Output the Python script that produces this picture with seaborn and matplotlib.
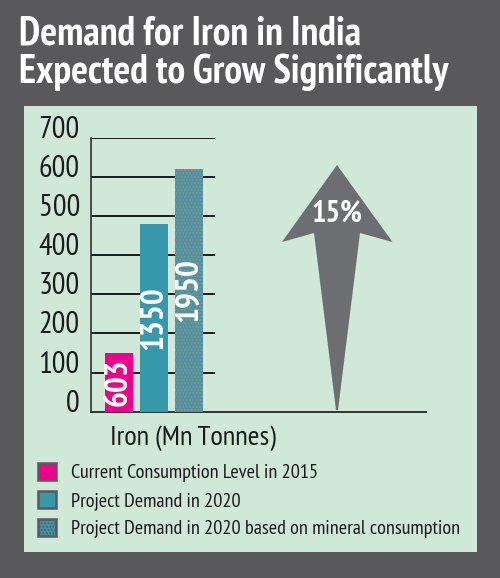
import matplotlib
matplotlib.use('Agg')
import matplotlib.pyplot as plt
import pandas as pd
import seaborn as sns
from matplotlib.patches import Patch, Polygon, Rectangle

W, H = 500, 578

categories = ['Current Consumption Level in 2015', 'Project Demand in 2020',
              'Project Demand in 2020 based on mineral consumption']
heights = [150, 480, 620]
bar_labels = ['603', '1350', '1950']
colors = ['#ec008c', '#3798ab', '#3f98aa']
y_ticks = [0, 100, 200, 300, 400, 500, 600, 700]
x_label = 'Iron (Mn Tonnes)'
growth_label = '15%'
title_lines = ['Demand for Iron in India', 'Expected to Grow Significantly']

FONT = ['PT Sans Narrow', 'Liberation Sans', 'DejaVu Sans']
DARK = '#59595b'
PANEL = '#cfe8d8'


def fx(px):
    return px / W


def fy(py):
    return 1 - py / H


sns.set_theme(style='white')
plt.rcParams['font.family'] = FONT
plt.rcParams['hatch.linewidth'] = 1.0

fig = plt.figure(figsize=(5, 5.78), dpi=100, facecolor=DARK)
fig.patches.append(Rectangle((fx(24), fy(552)), fx(453), 446 / H, transform=fig.transFigure,
                             facecolor=PANEL, edgecolor='none', zorder=-2))

ax = fig.add_axes([fx(91), fy(411.7), fx(335), (411.7 - 137.7) / H])
ax.patch.set_alpha(0)

df = pd.DataFrame({'name': categories, 'value': heights})
sns.barplot(data=df, x='name', y='value', hue='name', order=categories, hue_order=categories,
            palette=colors, width=0.8, dodge=False, legend=False, saturation=1, linewidth=0,
            ax=ax, zorder=3)

ax.set_xlim(-0.8, 8.77)
ax.set_ylim(0, 700)
ax.set_xlabel('')
ax.set_ylabel('')
ax.set_xticks([])
ax.set_yticks(y_ticks)
ax.tick_params(axis='y', length=0, pad=8)
for lab in ax.get_yticklabels():
    lab.set_fontsize(22)
    lab.set_color('#1a1a1a')
    lab.set_verticalalignment('baseline')

# grid stops just after the bars, only the baseline runs on
ax.hlines(y_ticks[1:], -0.8, 2.74, colors='#1a1a1a', lw=1.4, zorder=1)

for s in ['top', 'right']:
    ax.spines[s].set_visible(False)
ax.spines['left'].set_color('#333333')
ax.spines['bottom'].set_color('#333333')
ax.spines['left'].set_linewidth(1.2)
ax.spines['bottom'].set_linewidth(1.4)

# mineral consumption bar has the speckled fill
speckled = ax.containers[2][0]
speckled.set_hatch('.....')
speckled.set_edgecolor('#a8867a')
speckled.set_linewidth(0)

for cont, lab in zip(ax.containers, bar_labels):
    ax.bar_label(cont, labels=[lab], label_type='center', rotation=90, color='white',
                 fontsize=24, fontweight='bold', zorder=5)

# growth arrow
arrow = [(337, 165), (392.5, 242), (360, 233), (338, 410), (336, 410), (314, 233), (282, 242)]
fig.patches.append(Polygon([(fx(a), fy(b)) for a, b in arrow], closed=True, transform=fig.transFigure,
                           facecolor='#6d6e71', edgecolor='none', zorder=-1))
fig.text(fx(337), fy(214), growth_label, color='white', fontsize=22, fontweight='bold',
         ha='center', va='center')

fig.text(fx(193), fy(438), x_label, color='#1a1a1a', fontsize=20.5, ha='center', va='center')

for i, line in enumerate(title_lines):
    fig.text(fx(19), fy(34 + 38 * i), line, color='white', fontsize=28.5, fontweight='bold',
             ha='left', va='center')

handles = []
for i, name in enumerate(categories):
    h = Patch(facecolor=colors[i], edgecolor=DARK, linewidth=1.8, label=name)
    if i == 2:
        h = Patch(facecolor=colors[i], edgecolor=DARK, linewidth=1.8, label=name, hatch='.....')
    handles.append(h)
fig.legend(handles=handles, loc='upper left', bbox_to_anchor=(fx(38), fy(463)), frameon=False,
           fontsize=14.6, handlelength=0.9, handleheight=0.9, handletextpad=0.75,
           labelspacing=0.42, labelcolor='#1a1a1a', borderpad=0, borderaxespad=0)

fig.savefig('out.png', dpi=100, facecolor=DARK)
